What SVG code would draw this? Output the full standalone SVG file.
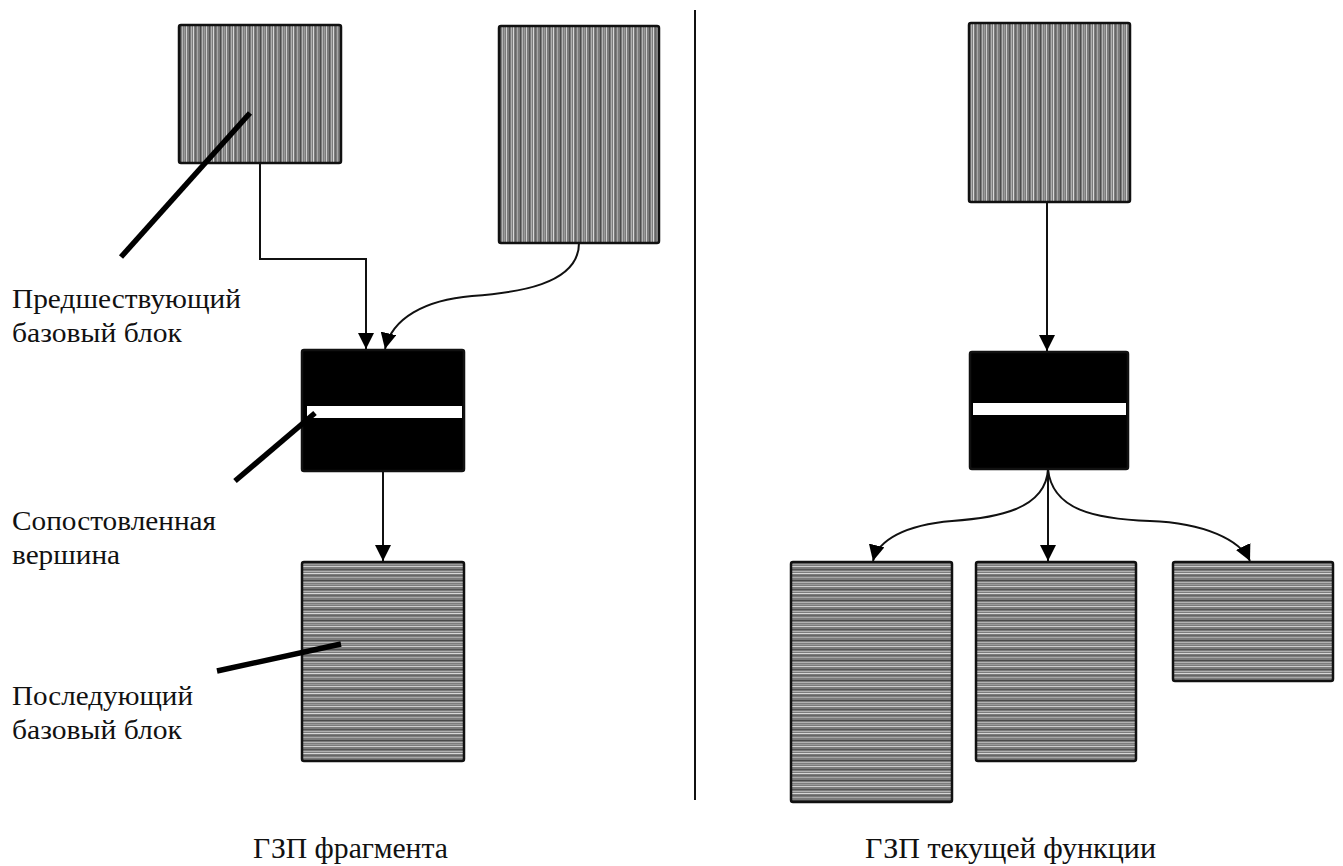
<svg xmlns="http://www.w3.org/2000/svg" width="1343" height="866" viewBox="0 0 1343 866">
  <style>
    .lbl { font-family: 'Liberation Serif', serif; font-size: 27px; fill: #111; }
    .cap { font-family: 'Liberation Serif', serif; font-size: 29px; fill: #111; }
    .blk { stroke: #111; stroke-width: 2.5; }
    .vs { fill: url(#vstripes); }
    .hs { fill: url(#hstripes); }
    .solid { fill: #000; }
    .bar { fill: #fff; }
    .conn { fill: none; stroke: #111; stroke-width: 2; }
    .ptr { stroke: #000; stroke-width: 5.5; stroke-linecap: butt; }
  </style>
  <defs>
    <pattern id="vstripes" patternUnits="userSpaceOnUse" width="20" height="10">
      <rect width="20" height="10" fill="#7c7c7c"/>
      <rect x="0" width="1" height="10" fill="#4a4a4a"/>
      <rect x="2" width="1" height="10" fill="#b4b4b4"/>
      <rect x="4" width="1" height="10" fill="#9a9a9a"/>
      <rect x="6" width="1" height="10" fill="#cfcfcf"/>
      <rect x="9" width="1" height="10" fill="#555"/>
      <rect x="11" width="1" height="10" fill="#b0b0b0"/>
      <rect x="13" width="1" height="10" fill="#d8d8d8"/>
      <rect x="15" width="1" height="10" fill="#666"/>
      <rect x="17" width="1" height="10" fill="#a8a8a8"/>
    </pattern>
    <pattern id="hstripes" patternUnits="userSpaceOnUse" width="10" height="20">
      <rect width="10" height="20" fill="#7c7c7c"/>
      <rect y="0" width="10" height="1" fill="#4a4a4a"/>
      <rect y="2" width="10" height="1" fill="#b4b4b4"/>
      <rect y="4" width="10" height="1" fill="#9a9a9a"/>
      <rect y="6" width="10" height="1" fill="#cfcfcf"/>
      <rect y="9" width="10" height="1" fill="#555"/>
      <rect y="11" width="10" height="1" fill="#b0b0b0"/>
      <rect y="13" width="10" height="1" fill="#d8d8d8"/>
      <rect y="15" width="10" height="1" fill="#666"/>
      <rect y="17" width="10" height="1" fill="#a8a8a8"/>
    </pattern>
    <marker id="arr" markerUnits="userSpaceOnUse" markerWidth="16" markerHeight="16" viewBox="0 0 14 14" refX="14" refY="7" orient="auto">
      <path d="M0,0 L14,7 L0,14 z" fill="#000"/>
    </marker>
  </defs>
  <rect width="1343" height="866" fill="#fff"/>

  <!-- divider -->
  <line x1="695" y1="10" x2="695" y2="800" stroke="#111" stroke-width="2"/>

  <!-- left graph -->
  <g id="pred1"><rect class="blk vs" x="179" y="25" width="162" height="138" rx="2"/></g>
  <g id="pred2"><rect class="blk vs" x="499" y="26" width="160" height="217" rx="2"/></g>
  <g id="match-left">
    <rect class="blk solid" x="302" y="350" width="162" height="121" rx="2"/>
    <rect class="bar" x="307" y="406" width="155" height="12"/>
  </g>
  <g id="succ-left"><rect class="blk hs" x="302" y="562" width="162" height="199" rx="2"/></g>

  <!-- right graph -->
  <g id="top-right"><rect class="blk vs" x="969" y="23" width="161" height="179" rx="2"/></g>
  <g id="match-right">
    <rect class="blk solid" x="970" y="352" width="158" height="117" rx="2"/>
    <rect class="bar" x="973" y="403" width="153" height="12"/>
  </g>
  <g id="succ-r1"><rect class="blk hs" x="791" y="562" width="161" height="240" rx="2"/></g>
  <g id="succ-r2"><rect class="blk hs" x="976" y="562" width="160" height="199" rx="2"/></g>
  <g id="succ-r3"><rect class="blk hs" x="1173" y="562" width="160" height="119" rx="2"/></g>

  <!-- connectors -->
  <g id="connectors">
    <path class="conn" d="M260,163 L260,259 L366,259 L366,349" marker-end="url(#arr)"/>
    <path class="conn" d="M579,243 C579,285 515,293 472,296 C425,300 392,318 385,349" marker-end="url(#arr)"/>
    <path class="conn" d="M383,471 L383,561" marker-end="url(#arr)"/>
    <path class="conn" d="M1047,202 L1047,351" marker-end="url(#arr)"/>
    <path class="conn" d="M1048,469 L1048,561" marker-end="url(#arr)"/>
    <path class="conn" d="M1048,469 C1046,510 995,518 952,521 C905,525 878,540 873,561" marker-end="url(#arr)"/>
    <path class="conn" d="M1048,469 C1052,510 1095,519 1150,521 C1205,523 1240,540 1250,561" marker-end="url(#arr)"/>
  </g>

  <!-- pointer lines -->
  <g id="pointers">
    <line class="ptr" x1="121" y1="257" x2="250" y2="113"/>
    <line class="ptr" x1="235" y1="481" x2="315" y2="413"/>
    <line class="ptr" x1="217" y1="671" x2="341" y2="644"/>
  </g>

  <!-- labels -->
  <g id="labels">
    <text class="lbl" x="12" y="308" textLength="229" lengthAdjust="spacingAndGlyphs">Предшествующий</text>
    <text class="lbl" x="12" y="342" textLength="170" lengthAdjust="spacingAndGlyphs">базовый блок</text>
    <text class="lbl" x="12" y="530" textLength="204" lengthAdjust="spacingAndGlyphs">Сопостовленная</text>
    <text class="lbl" x="12" y="564" textLength="108" lengthAdjust="spacingAndGlyphs">вершина</text>
    <text class="lbl" x="12" y="705" textLength="181" lengthAdjust="spacingAndGlyphs">Последующий</text>
    <text class="lbl" x="12" y="739" textLength="170" lengthAdjust="spacingAndGlyphs">базовый блок</text>
    <text class="cap" x="253" y="858" textLength="195" lengthAdjust="spacingAndGlyphs">ГЗП фрагмента</text>
    <text class="cap" x="865" y="858" textLength="291" lengthAdjust="spacingAndGlyphs">ГЗП текущей функции</text>
  </g>
</svg>
